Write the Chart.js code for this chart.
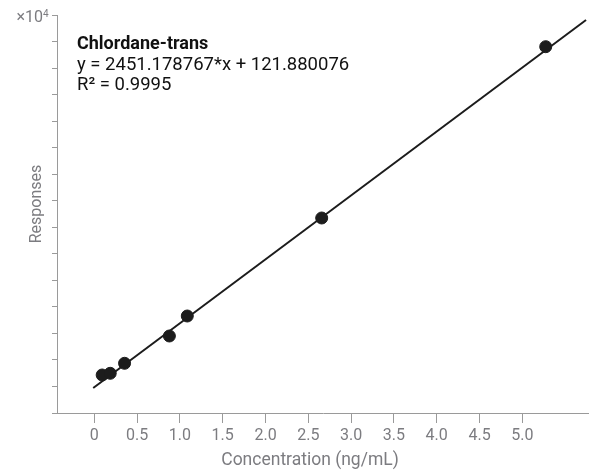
<!DOCTYPE html>
<html>
<head>
<meta charset="utf-8">
<script src="https://cdn.jsdelivr.net/npm/chart.js@4"></script>
<style>
  html, body { margin: 0; padding: 0; background: #fff; overflow: hidden; }
  canvas { display: block; }
</style>
</head>
<body>
<canvas id="migrafica" width="589" height="475"></canvas>
<script>
// calibration points
const concentrations = [0.05, 0.14, 0.3, 0.8, 1.0, 2.5, 5.0];
const responses = [476, 538, 905, 1905, 2637, 6227, 12502];

// fitted line (from the label) and its drawn extent
const slope = 2451.178767;
const intercept = 121.880076;
const fitRange = [-0.05, 5.45];

const xTicks = [0, 0.5, 1.0, 1.5, 2.0, 2.5, 3.0, 3.5, 4.0, 4.5, 5.0];
const labelLines = ["Chlordane-trans", "y = 2451.178767*x + 121.880076", "R² = 0.9995"];

const points = concentrations.map((c, i) => ({ x: c, y: responses[i] }));
const fit = fitRange.map((x) => ({ x, y: slope * x + intercept }));

const gray = "#7c7c80";
const axisGray = "#9a9a9a";
const font = "Roboto";

const overlay = {
  id: "overlay",
  afterDraw(chart) {
    const ctx = chart.ctx;
    ctx.save();
    ctx.fillStyle = "#111";
    ctx.textBaseline = "alphabetic";
    ctx.textAlign = "left";
    ctx.font = "bold 18px " + font;
    ctx.fillText(labelLines[0], 77, 49);
    ctx.font = "18.5px " + font;
    ctx.fillText(labelLines[1], 77, 70);
    ctx.fillText(labelLines[2], 77, 90);

    // axis titles
    ctx.fillStyle = gray;
    ctx.font = "17.5px " + font;
    ctx.textAlign = "center";
    ctx.fillText("Concentration (ng/mL)", 310, 465);
    ctx.font = "16px " + font;
    ctx.translate(41, 204);
    ctx.rotate(-Math.PI / 2);
    ctx.fillText("Responses", 0, 0);
    ctx.restore();

    ctx.save();
    ctx.fillStyle = gray;
    ctx.font = "16px " + font;
    ctx.textBaseline = "alphabetic";
    ctx.textAlign = "right";
    ctx.fillText("×10", 43, 22);
    ctx.font = "10px " + font;
    ctx.textAlign = "left";
    ctx.fillText("4", 43, 17);
    ctx.restore();
  },
};

const config = {
  type: "scatter",
  data: {
    datasets: [
      {
        data: points,
        xAxisID: "xd",
        yAxisID: "y",
        backgroundColor: "#1c1c1c",
        borderColor: "#1c1c1c",
        pointRadius: 6,
        pointHoverRadius: 6,
        order: 0,
      },
      {
        type: "line",
        data: fit,
        xAxisID: "xd",
        yAxisID: "y",
        borderColor: "#1c1c1c",
        borderWidth: 2,
        pointRadius: 0,
        fill: false,
        order: 1,
      },
    ],
  },
  options: {
    responsive: false,
    animation: false,
    layout: { autoPadding: false, padding: { top: 15, right: 0, left: 0, bottom: 0 } },
    plugins: { legend: { display: false }, tooltip: { enabled: false } },
    scales: {
      x: {
        type: "linear",
        position: "bottom",
        min: -0.436,
        max: 5.779,
        afterBuildTicks: (s) => { s.ticks = xTicks.map((v) => ({ value: v })); },
        afterFit: (s) => { s.height = 62; },
        ticks: {
          color: gray,
          font: { family: font, size: 16 },
          padding: 3,
          maxRotation: 0,
          autoSkip: false,
          callback: (v) => (v === 0 ? "0" : Number(v).toFixed(1)),
        },
        grid: { drawOnChartArea: false, tickLength: 10, color: axisGray },
        border: { color: axisGray, width: 1 },
      },
      xd: {
        type: "linear",
        display: false,
        min: -0.454,
        max: 5.483,
      },
      y: {
        type: "linear",
        min: -916,
        max: 13663,
        ticks: { display: false, stepSize: 1000, includeBounds: false },
        afterFit: (s) => { s.width = 57; },
        grid: { drawOnChartArea: false, tickLength: 5, color: axisGray },
        border: { color: axisGray, width: 1 },
      },
    },
  },
  plugins: [overlay],
};

const ctx = document.getElementById("migrafica").getContext("2d");
window.myChart = new Chart(ctx, config);
</script>
</body>
</html>
